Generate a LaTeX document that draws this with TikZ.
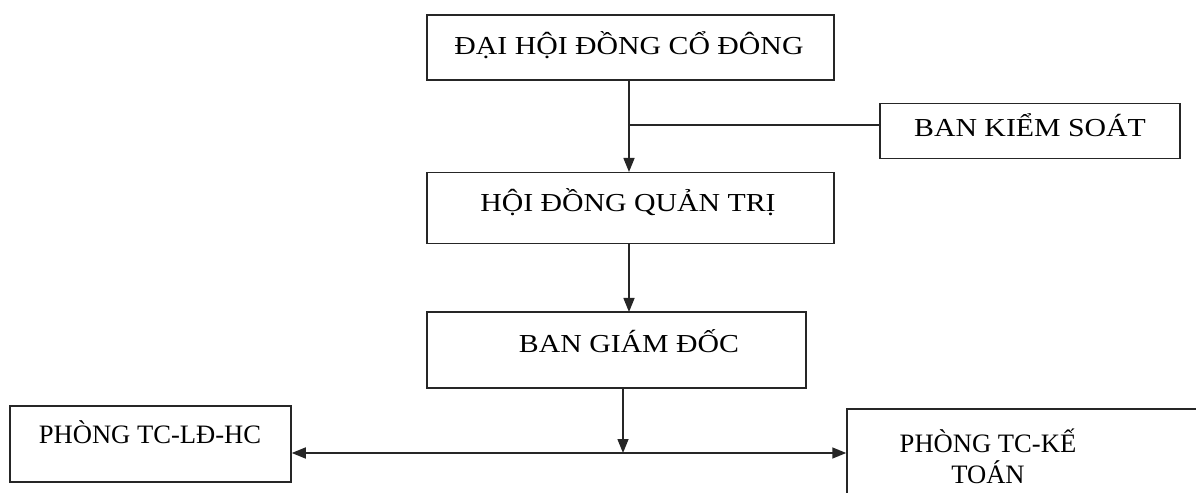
\documentclass[tikz,border=0pt]{standalone}
\usepackage{fontspec}
\setmainfont{Liberation Serif}
\newfontfamily\widefont[FakeStretch=1.15]{Liberation Serif}
\usetikzlibrary{arrows.meta}
\begin{document}
\begin{tikzpicture}[x=1bp,y=-1bp,
  box/.style={draw=black!85,line width=1.5bp,inner sep=0pt},
  toptxt/.style={anchor=base,inner sep=0pt,font=\widefont\fontsize{26}{31}\selectfont},
  bottxt/.style={anchor=base,inner sep=0pt,font=\fontsize{26.7}{31}\selectfont},
  arr/.style={draw=black!85,line width=1.5bp,-{Triangle[length=14bp,width=11bp]}},
  ln/.style={draw=black!85,line width=1.5bp}]
\useasboundingbox (0,0) rectangle (1196,493);
\fill[white] (0,0) rectangle (1196,493);
\node[box,minimum width=407bp,minimum height=65bp] (dh) at (630.5,47.5) {};
\node[toptxt] (dht) at (629,55) {ĐẠI HỘI ĐỒNG CỔ ĐÔNG};
\node[box,minimum width=300bp,minimum height=55bp] (bks) at (1030,131) {};
\node[toptxt] (bkst) at (1030,137) {BAN KIỂM SOÁT};
\node[box,minimum width=407bp,minimum height=71bp] (hd) at (630.5,208) {};
\node[toptxt] (hdt) at (628,212) {HỘI ĐỒNG QUẢN TRỊ};
\node[box,minimum width=379bp,minimum height=76bp] (bgd) at (616.5,350) {};
\node[toptxt] (bgdt) at (629,353) {BAN GIÁM ĐỐC};
\node[box,minimum width=281bp,minimum height=76bp] (lf) at (150.5,444) {};
\node[bottxt] (lft) at (150,443) {PHÒNG TC-LĐ-HC};
\node[box,minimum width=353bp,minimum height=111bp] (rt) at (1023.5,464.5) {};
\node[bottxt] (rtt1) at (988,452) {PHÒNG TC-KẾ};
\node[bottxt] (rtt2) at (988,483) {TOÁN};
\coordinate (j1) at (629,125);
\coordinate (j2) at (623,453);
\draw[arr] (629,80) -- (629,172);
\draw[ln] (j1) -- (j1 -| bks.west);
\draw[arr] (629,243.5) -- (629,312);
\draw[arr] (bgd.south -| j2) -- (j2);
\draw[arr] (j2) -- (j2 -| lf.east);
\draw[arr] (j2) -- (j2 -| rt.west);
\end{tikzpicture}
\end{document}
